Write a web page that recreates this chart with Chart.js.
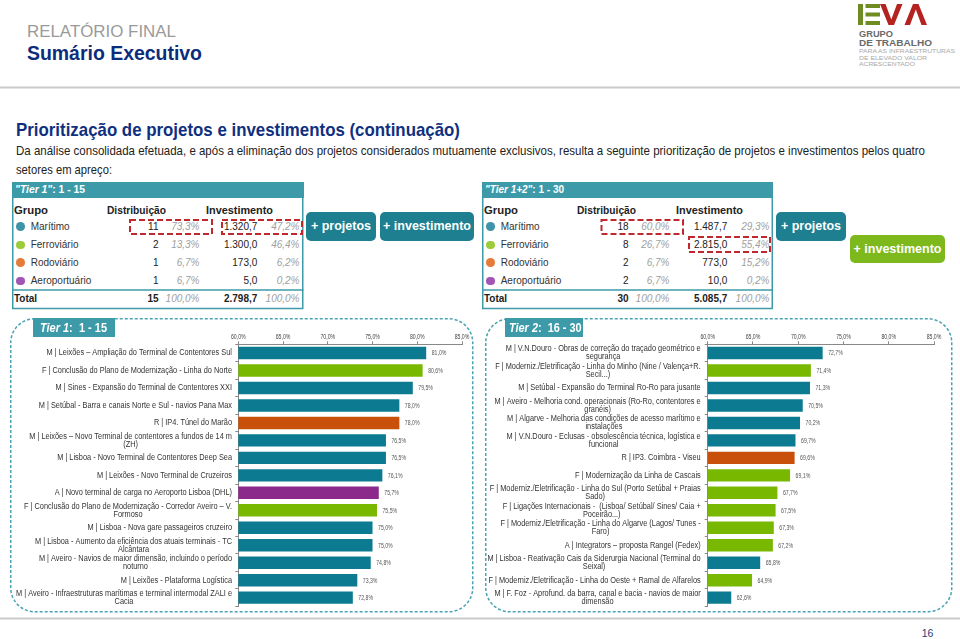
<!DOCTYPE html>
<html><head><meta charset="utf-8">
<script src="https://cdn.jsdelivr.net/npm/chart.js@4.4.1/dist/chart.umd.min.js"></script>
<style>
html,body{margin:0;padding:0;background:#fff;}
body{width:960px;height:639px;position:relative;overflow:hidden;font-family:'Liberation Sans',Arial,sans-serif;}
.a{position:absolute;white-space:nowrap;}
canvas{position:absolute;}
.btn{position:absolute;color:#fff;font-weight:bold;font-size:12.5px;text-align:center;border-radius:5px;}
.hdr{position:absolute;background:#3d9ba9;}
</style>
</head><body>
<svg class="a" style="left:0;top:0" width="960" height="639">
 <line x1="0" y1="87.5" x2="960" y2="87.5" stroke="#cacaca" stroke-width="2"/>
 <line x1="0" y1="618.5" x2="960" y2="618.5" stroke="#cacaca" stroke-width="2"/>
 <rect x="858" y="4" width="5" height="21" fill="#6f8c22"/>
 <rect x="865.5" y="4" width="14.5" height="4" fill="#6f8c22"/>
 <rect x="865.5" y="12.5" width="14.5" height="4" fill="#6f8c22"/>
 <rect x="865.5" y="21" width="14.5" height="4" fill="#6f8c22"/>
 <polygon points="880,4 885.5,4 891.3,19.5 897,4 902.5,4 894,25 888.5,25" fill="#b52320"/>
 <polygon points="904.5,25 910,25 915.8,9.5 921.5,25 927,25 918.5,4 913,4" fill="#b52320"/>
 <rect x="12.75" y="197" width="290" height="111.5" fill="none" stroke="#3d9ba9" stroke-width="1.5"/>
 <line x1="12" y1="290" x2="303.5" y2="290" stroke="#3d9ba9" stroke-width="1.5"/>
 <rect x="482.75" y="197" width="289.5" height="111.5" fill="none" stroke="#3d9ba9" stroke-width="1.5"/>
 <line x1="482" y1="290" x2="773" y2="290" stroke="#3d9ba9" stroke-width="1.5"/>
 <g fill="none" stroke="#c0282e" stroke-width="2" stroke-dasharray="6 3">
  <rect x="130" y="220" width="82" height="14"/>
  <rect x="222" y="220" width="80" height="14"/>
  <rect x="601.5" y="220" width="81.5" height="14"/>
  <rect x="689" y="237" width="81" height="15"/>
 </g>
 <rect x="10.75" y="318.75" width="462" height="293" rx="24" fill="none" stroke="#4aa3b5" stroke-width="1.5" stroke-dasharray="3 2"/>
 <rect x="485.75" y="318.75" width="466" height="293" rx="24" fill="none" stroke="#4aa3b5" stroke-width="1.5" stroke-dasharray="3 2"/>
</svg>
<div class="hdr" style="left:12px;top:182px;width:291.5px;height:15.5px"></div>
<div class="hdr" style="left:482px;top:182px;width:291px;height:15.5px"></div>
<div class="hdr" style="left:33px;top:318px;width:82px;height:19px"></div>
<div class="hdr" style="left:505px;top:318px;width:78px;height:19px"></div>
<div class="btn" style="left:306px;top:212px;width:70px;height:29px;line-height:29px;background:#1d7f8f">+ projetos</div>
<div class="btn" style="left:380px;top:212px;width:94px;height:29px;line-height:29px;background:#1d7f8f">+ investimento</div>
<div class="btn" style="left:776px;top:212px;width:70px;height:29px;line-height:29px;background:#1d7f8f">+ projetos</div>
<div class="btn" style="left:850px;top:235px;width:95px;height:28px;line-height:28px;background:#7db81c">+ investimento</div>
<canvas id="c1" width="464" height="284" style="left:12px;top:326px"></canvas>
<canvas id="c2" width="462" height="284" style="left:486px;top:326px"></canvas>
<script>
// ---------- data ----------
const tickValues = [60, 65, 70, 75, 80, 85];

const tier1Labels = [
  "M | Leixões – Ampliação do Terminal de Contentores Sul",
  "F | Conclusão do Plano de Modernização - Linha do Norte",
  "M | Sines - Expansão do Terminal de Contentores XXI",
  "M | Setúbal - Barra e canais Norte e Sul - navios Pana Max",
  "R | IP4. Túnel do Marão",
  ["M | Leixões – Novo Terminal de contentores a fundos de 14 m", "(ZH)"],
  "M | Lisboa - Novo Terminal de Contentores Deep Sea",
  "M | Leixões - Novo Terminal de Cruzeiros",
  "A | Novo terminal de carga no Aeroporto Lisboa (DHL)",
  ["F | Conclusão do Plano de Modernização - Corredor Aveiro – V.", "Formoso"],
  "M | Lisboa - Nova gare passageiros cruzeiro",
  ["M | Lisboa - Aumento da eficiência dos atuais terminais - TC", "Alcântara"],
  ["M | Aveiro - Navios de maior dimensão, incluindo o período", "noturno"],
  "M | Leixões - Plataforma Logística",
  ["M | Aveiro - Infraestruturas marítimas e terminal intermodal ZALI e", "Cacia"]
];
const tier1Values = [81.0, 80.6, 79.5, 78.0, 78.0, 76.5, 76.5, 76.1, 75.7, 75.5, 75.0, 75.0, 74.8, 73.3, 72.8];
const tier1Colors = ["M","F","M","M","R","M","M","M","A","F","M","M","M","M","M"];

const tier2Labels = [
  ["M | V.N.Douro - Obras de correção do traçado geométrico e", "segurança"],
  ["F | Moderniz./Eletrificação - Linha do Minho (Nine / Valença+R.", "Secil...)"],
  "M | Setúbal - Expansão do Terminal Ro-Ro para jusante",
  ["M | Aveiro - Melhoria cond. operacionais (Ro-Ro, contentores e", "granéis)"],
  ["M | Algarve - Melhoria das condições de acesso marítimo e", "instalações"],
  ["M | V.N.Douro - Eclusas - obsolescência técnica, logística e", "funcional"],
  "R | IP3. Coimbra - Viseu",
  "F | Modernização da Linha de Cascais",
  ["F | Moderniz./Eletrificação - Linha do Sul (Porto Setúbal + Praias", "Sado)"],
  ["F | Ligações Internacionais -  (Lisboa/ Setúbal/ Sines/ Caia +", "Poceirão...)"],
  ["F | Moderniz./Eletrificação - Linha do Algarve (Lagos/ Tunes -", "Faro)"],
  "A | Integrators – proposta Rangel (Fedex)",
  ["M | Lisboa - Reativação Cais da Siderurgia Nacional (Terminal do", "Seixal)"],
  "F | Moderniz./Eletrificação - Linha do Oeste + Ramal de Alfarelos",
  ["M | F. Foz - Aprofund. da barra, canal e bacia - navios de maior", "dimensão"]
];
const tier2Values = [72.7, 71.4, 71.3, 70.5, 70.2, 69.7, 69.6, 69.1, 67.7, 67.5, 67.3, 67.2, 65.8, 64.9, 62.6];
const tier2Colors = ["M","F","M","M","M","M","R","F","F","F","F","F","M","F","M"];

const groupNames = ["Marítimo", "Ferroviário", "Rodoviário", "Aeroportuário"];
const t1Count = ["11", "2", "1", "1"];
const t1CountPct = ["73,3%", "13,3%", "6,7%", "6,7%"];
const t1Invest = ["1.320,7", "1.300,0", "173,0", "5,0"];
const t1InvestPct = ["47,2%", "46,4%", "6,2%", "0,2%"];
const t1Total = ["15", "100,0%", "2.798,7", "100,0%"];
const t2Count = ["18", "8", "2", "2"];
const t2CountPct = ["60,0%", "26,7%", "6,7%", "6,7%"];
const t2Invest = ["1.487,7", "2.815,0", "773,0", "10,0"];
const t2InvestPct = ["29,3%", "55,4%", "15,2%", "0,2%"];
const t2Total = ["30", "100,0%", "5.085,7", "100,0%"];

// ---------- styles ----------
const barColors = {M: "#0c7b91", F: "#78b800", R: "#c8500b", A: "#8c2a8c"};
const dotColors = ["#3e93a8", "#9ccc3c", "#e37c3a", "#a155b5"];

// ---------- html text ----------
const fitList = [];
function T(html, x, yc, o = {}) {
  const d = document.createElement('div');
  d.className = 'a';
  d.innerHTML = html;
  const fs = o.fs || 10;
  d.style.fontSize = fs + 'px';
  d.style.lineHeight = fs + 'px';
  d.style.top = (yc - 0.488 * fs) + 'px';
  d.style.color = o.color || '#333';
  if (o.bold) d.style.fontWeight = 'bold';
  if (o.italic) d.style.fontStyle = 'italic';
  if (o.align === 'right') { d.style.right = (960 - x) + 'px'; d.style.transformOrigin = '100% 0'; }
  else { d.style.left = x + 'px'; d.style.transformOrigin = '0 0'; }
  document.body.appendChild(d);
  if (o.w) fitList.push([d, o.w]);
  return d;
}
T('RELATÓRIO FINAL', 27, 31.2, {fs: 17, color: '#9a9a9a', w: 149});
T('Sumário Executivo', 26.7, 53.7, {fs: 19.5, bold: true, color: '#0d2d7c', w: 175});
T('GRUPO', 859, 33.7, {fs: 8.5, bold: true, color: '#6a6a6a', w: 34});
T('DE TRABALHO', 859, 43, {fs: 8.5, bold: true, color: '#6a6a6a', w: 73});
T('PARA AS INFRAESTRUTURAS', 859, 51.3, {fs: 6, color: '#a8a8a8', w: 96});
T('DE ELEVADO VALOR', 859, 57.8, {fs: 6, color: '#a8a8a8', w: 68});
T('ACRESCENTADO', 859, 64.3, {fs: 6, color: '#a8a8a8', w: 56});
T('Prioritização de projetos e investimentos (continuação)', 16, 129.2, {fs: 19, bold: true, color: '#10307f', w: 444});
T('Da análise consolidada efetuada, e após a eliminação dos projetos considerados mutuamente exclusivos, resulta a seguinte prioritização de projetos e investimentos pelos quatro', 16, 150.5, {fs: 13, color: '#222', w: 909});
T('setores em apreço:', 16, 169.5, {fs: 13, color: '#222', w: 96});
T('16', 921.7, 633.3, {fs: 10.5, color: '#1f3d7a'});

function table(dx, title, tw, cnt, cntPct, inv, invPct, tot) {
  T(title, 14.7 + dx, 189.5, {fs: 10, bold: true, color: '#fff', w: tw});
  T('Grupo', 14 + dx, 210.7, {fs: 10, bold: true, color: '#222', w: 34});
  T('Distribuição', 106.7 + dx, 210.7, {fs: 10, bold: true, color: '#222', w: 59});
  T('Investimento', 205.7 + dx, 210.7, {fs: 10, bold: true, color: '#222', w: 67});
  const ys = [226.7, 245, 262.7, 281];
  groupNames.forEach((g, i) => {
    const dot = document.createElement('div');
    dot.className = 'a';
    Object.assign(dot.style, {left: (16.2 + dx) + 'px', top: (ys[i] - 4.5) + 'px', width: '8.6px', height: '8.6px', borderRadius: '50%', background: dotColors[i]});
    document.body.appendChild(dot);
    T(g, 30.7 + dx, ys[i], {fs: 10, color: '#333'});
    T(cnt[i], 158.5 + dx, ys[i], {fs: 10, color: '#222', align: 'right'});
    T(cntPct[i], 199.5 + dx, ys[i], {fs: 10, italic: true, color: '#a0a0a0', align: 'right'});
    T(inv[i], 257.3 + dx, ys[i], {fs: 10, color: '#222', align: 'right'});
    T(invPct[i], 299.5 + dx, ys[i], {fs: 10, italic: true, color: '#a0a0a0', align: 'right'});
  });
  T('Total', 14 + dx, 299.3, {fs: 10, bold: true, color: '#222'});
  T(tot[0], 158.5 + dx, 299.3, {fs: 10, bold: true, color: '#222', align: 'right'});
  T(tot[1], 199.5 + dx, 299.3, {fs: 10, italic: true, color: '#a0a0a0', align: 'right'});
  T(tot[2], 257.3 + dx, 299.3, {fs: 10, bold: true, color: '#222', align: 'right'});
  T(tot[3], 299.5 + dx, 299.3, {fs: 10, italic: true, color: '#a0a0a0', align: 'right'});
}
table(0, '<i>"Tier 1"</i>: 1 - 15', 70, t1Count, t1CountPct, t1Invest, t1InvestPct, t1Total);
table(470, '<i>"Tier 1+2"</i>: 1 - 30', 79, t2Count, t2CountPct, t2Invest, t2InvestPct, t2Total);
T('<i>Tier 1</i>:&nbsp; 1 - 15', 40, 327.7, {fs: 12.5, bold: true, color: '#fff', w: 67});
T('<i>Tier 2</i>:&nbsp; 16 - 30', 509, 327.7, {fs: 12.5, bold: true, color: '#fff', w: 72.7});

fitList.forEach(([d, w]) => {
  const nat = d.getBoundingClientRect().width;
  d.style.transform = 'scaleX(' + (w / nat) + ')';
});

// ---------- charts ----------
const fmt = v => v.toFixed(1).replace('.', ',') + '%';
const FONT = '"Liberation Sans", Arial, sans-serif';
const labelPlugin = {
  id: 'lbls',
  afterDatasetsDraw(chart, args, opts) {
    const ctx = chart.ctx;
    const ys = chart.scales.y, xs = chart.scales.x;
    const meta = chart.getDatasetMeta(0);
    const k = 0.88;
    ctx.save();
    ctx.fillStyle = '#333';
    ctx.font = '8.4px ' + FONT;
    ctx.textBaseline = 'middle';
    ctx.textAlign = 'center';
    chart.data.labels.forEach((lab, i) => {
      const lines = Array.isArray(lab) ? lab : [lab];
      const y = ys.getPixelForValue(i);
      const w = Math.max(...lines.map(l => ctx.measureText(l).width)) * k;
      const cx = ys.right - opts.gap - w / 2;
      lines.forEach((l, j) => {
        ctx.save(); ctx.translate(cx, y + (j - (lines.length - 1) / 2) * 7.9); ctx.scale(k, 1);
        ctx.fillText(l, 0, 0); ctx.restore();
      });
    });
    ctx.font = '6.8px ' + FONT;
    ctx.fillStyle = '#555';
    ctx.textAlign = 'left';
    meta.data.forEach((bar, i) => {
      const v = chart.data.datasets[0].data[i];
      ctx.save(); ctx.translate(bar.x + 5.5, bar.y + 0.5); ctx.scale(0.76, 1);
      ctx.fillText(fmt(v), 0, 0); ctx.restore();
    });
    ctx.fillStyle = '#444';
    ctx.textAlign = 'center';
    tickValues.forEach(v => {
      const x = xs.getPixelForValue(v);
      ctx.save(); ctx.translate(x, xs.bottom - 7.6); ctx.scale(0.76, 1);
      ctx.fillText(fmt(v), 0, 0); ctx.restore();
    });
    ctx.restore();
  }
};
function makeChart(id, labels, values, colors, yW, gap) {
  new Chart(document.getElementById(id), {
    type: 'bar',
    data: {labels: labels, datasets: [{data: values, backgroundColor: colors.map(k => barColors[k]), barPercentage: 0.71, categoryPercentage: 1}]},
    options: {
      indexAxis: 'y', responsive: false, animation: false, devicePixelRatio: 1,
      layout: {padding: {left: 0, right: 14, top: 0, bottom: 3.6}},
      plugins: {legend: {display: false}, tooltip: {enabled: false}, lbls: {gap: gap}},
      scales: {
        x: {position: 'top', min: 60, max: 85, ticks: {display: false, stepSize: 5},
            grid: {drawOnChartArea: false, tickLength: 3, color: '#888'}, border: {color: '#888'},
            afterFit(s) { s.height = 18.3; }},
        y: {ticks: {display: false}, grid: {drawOnChartArea: false, tickLength: 3, color: '#888'}, border: {color: '#888'},
            afterFit(s) { s.width = yW; }}
      }
    },
    plugins: [labelPlugin]
  });
}
makeChart('c1', tier1Labels, tier1Values, tier1Colors, 226.3, 6.3);
makeChart('c2', tier2Labels, tier2Values, tier2Colors, 221.7, 7);
</script>
</body></html>
